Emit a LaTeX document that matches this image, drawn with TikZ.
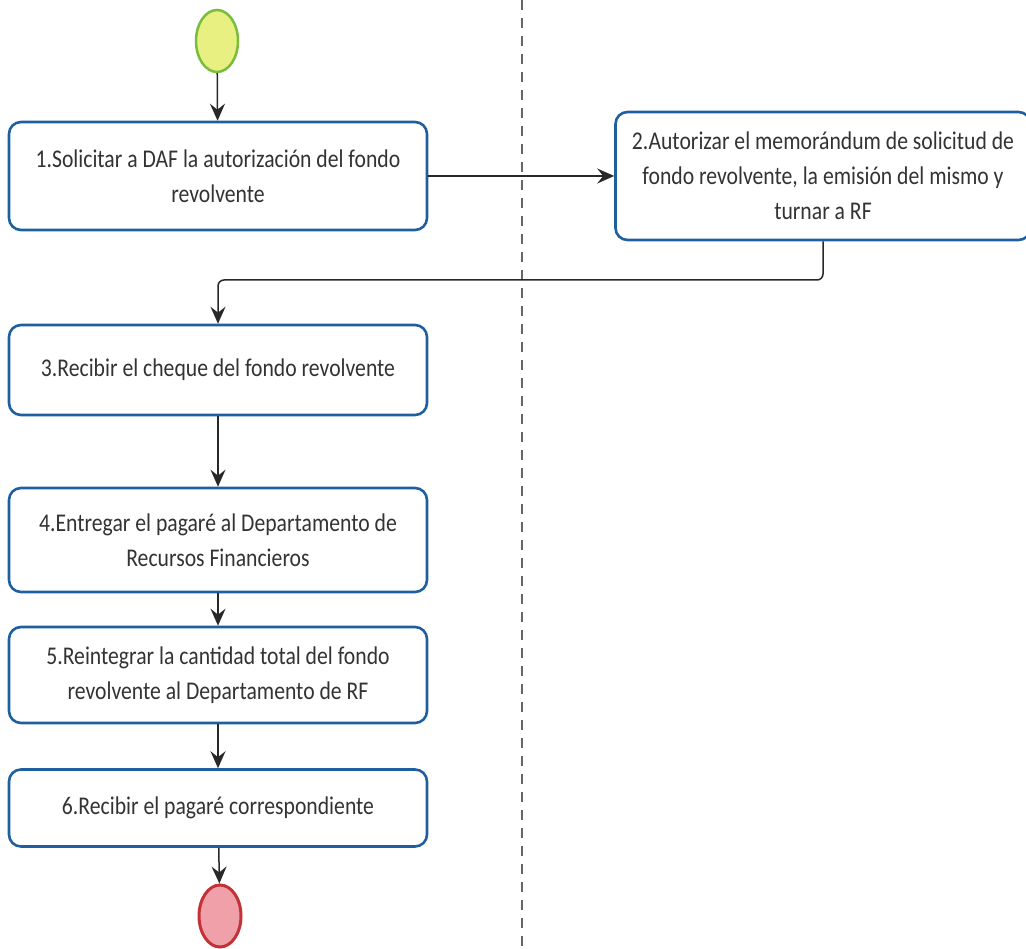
\documentclass[tikz,border=0pt]{standalone}
\usepackage{fontspec}
\setmainfont[FakeStretch=0.85]{Carlito}
\usetikzlibrary{arrows.meta,positioning,shapes.geometric}
\definecolor{boxblue}{RGB}{30,95,160}
\definecolor{startfill}{RGB}{232,240,130}
\definecolor{startdraw}{RGB}{120,190,60}
\definecolor{endfill}{RGB}{240,160,168}
\definecolor{enddraw}{RGB}{195,50,55}
\definecolor{linegray}{RGB}{40,40,40}
\tikzset{
  stepbox/.style={draw=boxblue, line width=2.6pt, rounded corners=12pt, fill=white,
    align=center, inner sep=0pt, font=\fontsize{25.5}{35}\selectfont, text=black!80},
  conn/.style={draw=linegray, line width=1.5pt, -{Stealth[length=17pt,width=15pt,inset=6pt]}},
  startnode/.style={ellipse, draw=startdraw, fill=startfill, line width=2.5pt, minimum width=42pt, minimum height=62pt, inner sep=0pt},
  endnode/.style={ellipse, draw=enddraw, fill=endfill, line width=3pt, minimum width=42pt, minimum height=62pt, inner sep=0pt},
  lane/.style={draw=black!60, line width=1.4pt, dash pattern=on 10pt off 8pt}
}
\begin{document}
\begin{tikzpicture}[x=1pt,y=-1pt]
\useasboundingbox (0,0) rectangle (1026,949);
\clip (0,0) rectangle (1026,949);
\fill[white] (0,0) rectangle (1026,949);
\coordinate (laneTop) at (522,0);
\coordinate (laneBot) at (522,949);
\draw[lane] (laneTop) -- (laneBot);

\node[startnode] (start) at (217,41) {};
\node[stepbox, minimum width=418pt, minimum height=108pt] (b1) at (218,176)
  {1.Solicitar a DAF la autorización del fondo\\revolvente};
\node[stepbox, minimum width=415pt, minimum height=128pt] (b2) at (823,176)
  {2.Autorizar el memorándum de solicitud de\\fondo revolvente, la emisión del mismo y\\turnar a RF};
\node[stepbox, minimum width=418pt, minimum height=90pt] (b3) at (218,370)
  {3.Recibir el cheque del fondo revolvente};
\node[stepbox, minimum width=418pt, minimum height=104pt] (b4) at (218,540)
  {4.Entregar el pagaré al Departamento de\\Recursos Financieros};
\node[stepbox, minimum width=418pt, minimum height=96pt] (b5) at (218,675)
  {5.Reintegrar la cantidad total del fondo\\revolvente al Departamento de RF};
\node[stepbox, minimum width=418pt, minimum height=77pt] (b6) at (218,808)
  {6.Recibir el pagaré correspondiente};
\node[endnode] (stop) at (220,916) {};

\coordinate (elbowR) at (823,280);
\coordinate (elbowL) at (218,280);

\draw[conn] (start) -- (b1);
\draw[conn] (b1.east) -- (b2.west);
\draw[conn, rounded corners=6pt] (b2.south) -- (elbowR) -- (elbowL) -- (b3.north);
\draw[conn] (b3) -- (b4);
\draw[conn] (b4) -- (b5);
\draw[conn] (b5) -- (b6);
\draw[conn] (b6) -- (stop);
\end{tikzpicture}
\end{document}
